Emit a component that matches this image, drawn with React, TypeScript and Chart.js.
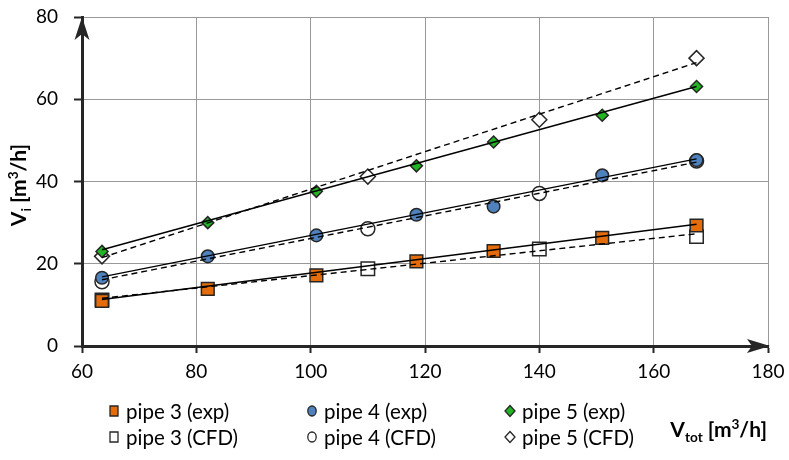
import React, { useEffect, useRef } from 'react';
import { Chart, registerables } from 'chart.js';

Chart.register(...registerables);

// ---- data ----
const xExp = [63.5, 82, 101, 118.5, 132, 151, 167.5];
const pipe3Exp = [11.0, 13.9, 17.2, 20.6, 23.1, 26.3, 29.3];
const pipe4Exp = [16.6, 21.8, 26.9, 31.9, 33.9, 41.5, 45.2];
const pipe5Exp = [23.0, 30.0, 37.6, 43.8, 49.6, 56.1, 63.1];

const xCfd = [63.5, 110, 140, 167.5];
const pipe3Cfd = [11.2, 18.8, 23.6, 26.6];
const pipe4Cfd = [15.6, 28.5, 37.1, 45.0];
const pipe5Cfd = [21.8, 41.2, 55.0, 70.0];

// trend line end points (x range of data)
const trendX = [63.5, 167.5];
const trend3Exp = [11.3, 29.6];
const trend3Cfd = [11.6, 27.3];
const trend4Exp = [16.8, 45.5];
const trend4Cfd = [16.1, 44.7];
const trend5Exp = [23.4, 63.1];
const trend5Cfd = [21.5, 68.9];

const xTicks = [60, 80, 100, 120, 140, 160, 180];
const yTicks = [0, 20, 40, 60, 80];

const legendLabels = [
  'pipe 3 (exp)',
  'pipe 4 (exp)',
  'pipe 5 (exp)',
  'pipe 3 (CFD)',
  'pipe 4 (CFD)',
  'pipe 5 (CFD)',
];

const ORANGE = '#E46C0A';
const BLUE = '#4F81BD';
const GREEN = '#22B422';
const DARK = '#262626';
const FONT = 'Lato, Carlito, Calibri, "Open Sans", sans-serif';

const pts = (xs: number[], ys: number[]) => xs.map((x, i) => ({ x, y: ys[i] }));

type Run = { t: string; mode?: 'sub' | 'sup' };

function drawRuns(ctx: CanvasRenderingContext2D, runs: Run[], x: number, y: number, size: number) {
  let cx = x;
  ctx.textBaseline = 'alphabetic';
  ctx.textAlign = 'left';
  for (const r of runs) {
    let s = size;
    let dy = 0;
    if (r.mode === 'sub') { s = size * 0.65; dy = size * 0.22; }
    if (r.mode === 'sup') { s = size * 0.65; dy = -size * 0.38; }
    ctx.font = `bold ${s}px ${FONT}`;
    ctx.fillText(r.t, cx, y + dy);
    cx += ctx.measureText(r.t).width;
  }
  return cx - x;
}

function measureRuns(ctx: CanvasRenderingContext2D, runs: Run[], size: number) {
  let w = 0;
  for (const r of runs) {
    const s = r.mode ? size * 0.65 : size;
    ctx.font = `bold ${s}px ${FONT}`;
    w += ctx.measureText(r.t).width;
  }
  return w;
}

function marker(ctx: CanvasRenderingContext2D, kind: string, x: number, y: number, fill: string) {
  ctx.save();
  ctx.fillStyle = fill;
  ctx.strokeStyle = DARK;
  ctx.lineWidth = 1.3;
  ctx.beginPath();
  if (kind === 'rect') {
    ctx.rect(x - 4, y - 5, 8, 10);
  } else if (kind === 'circle') {
    ctx.ellipse(x, y, 4.2, 5, 0, 0, Math.PI * 2);
  } else {
    ctx.moveTo(x, y - 5.5);
    ctx.lineTo(x + 5, y);
    ctx.lineTo(x, y + 5.5);
    ctx.lineTo(x - 5, y);
    ctx.closePath();
  }
  ctx.fill();
  ctx.stroke();
  ctx.restore();
}

const decorPlugin = {
  id: 'decor',
  afterDraw(chart: any) {
    const ctx: CanvasRenderingContext2D = chart.ctx;
    const { left, right, top, bottom } = chart.chartArea;
    ctx.save();

    // arrow on y axis
    ctx.fillStyle = DARK;
    ctx.beginPath();
    ctx.moveTo(left, top);
    ctx.lineTo(left + 7.5, top + 23);
    ctx.lineTo(left, top + 17);
    ctx.lineTo(left - 7.5, top + 23);
    ctx.closePath();
    ctx.fill();

    // arrow on x axis
    ctx.beginPath();
    ctx.moveTo(right + 2, bottom);
    ctx.lineTo(right - 21, bottom - 7);
    ctx.lineTo(right - 16, bottom);
    ctx.lineTo(right - 21, bottom + 7);
    ctx.closePath();
    ctx.fill();

    // y axis title
    ctx.fillStyle = '#000';
    const yRuns: Run[] = [{ t: 'V' }, { t: 'i', mode: 'sub' }, { t: ' [m' }, { t: '3', mode: 'sup' }, { t: '/h]' }];
    const yw = measureRuns(ctx, yRuns, 21);
    ctx.save();
    ctx.translate(26, 185);
    ctx.rotate(-Math.PI / 2);
    drawRuns(ctx, yRuns, -yw / 2, 0, 21);
    ctx.restore();

    // x axis title
    const xRuns: Run[] = [{ t: 'V' }, { t: 'tot', mode: 'sub' }, { t: ' [m' }, { t: '3', mode: 'sup' }, { t: '/h]' }];
    const xw = measureRuns(ctx, xRuns, 21);
    drawRuns(ctx, xRuns, 767 - xw, 437, 21);

    // legend
    const colsMarker = [114, 312, 510];
    const colsText = [126, 324, 522];
    const rowsY = [411, 437];
    const kinds = ['rect', 'circle', 'diamond'];
    const fillsExp = [ORANGE, BLUE, GREEN];
    for (let i = 0; i < legendLabels.length; i++) {
      const col = i % 3;
      const row = Math.floor(i / 3);
      const fill = row === 0 ? fillsExp[col] : '#ffffff';
      marker(ctx, kinds[col], colsMarker[col], rowsY[row], fill);
      ctx.fillStyle = '#000';
      ctx.font = `20.5px ${FONT}`;
      ctx.textBaseline = 'middle';
      ctx.textAlign = 'left';
      ctx.fillText(legendLabels[i], colsText[col], rowsY[row] + 1);
    }
    ctx.restore();
  },
};

export default function App() {
  const ref = useRef<HTMLCanvasElement | null>(null);

  useEffect(() => {
    if (!ref.current) return;
    const line = (ys: number[], dashed: boolean) => ({
      data: pts(trendX, ys),
      showLine: true,
      borderColor: '#000',
      borderWidth: 1.4,
      borderDash: dashed ? [6, 4] : [],
      pointRadius: 0,
      pointHoverRadius: 0,
      fill: false,
    });
    const scatter = (xs: number[], ys: number[], style: string, r: number, fill: string, label: string) => ({
      label,
      data: pts(xs, ys),
      showLine: false,
      pointStyle: style,
      pointRadius: r,
      pointHoverRadius: r,
      pointBackgroundColor: fill,
      pointBorderColor: DARK,
      pointBorderWidth: 1.5,
      backgroundColor: fill,
      borderColor: DARK,
    });

    const chart = new Chart(ref.current, {
      type: 'scatter',
      data: {
        datasets: [
          line(trend3Exp, false),
          line(trend4Exp, false),
          line(trend5Exp, false),
          line(trend3Cfd, true),
          line(trend4Cfd, true),
          line(trend5Cfd, true),
          scatter(xExp, pipe3Exp, 'rect', 9, ORANGE, legendLabels[0]),
          scatter(xExp, pipe4Exp, 'circle', 6.3, BLUE, legendLabels[1]),
          scatter(xExp, pipe5Exp, 'rectRot', 6, GREEN, legendLabels[2]),
          scatter(xCfd, pipe3Cfd, 'rect', 9.5, '#ffffff', legendLabels[3]),
          scatter(xCfd, pipe4Cfd, 'circle', 7, '#ffffff', legendLabels[4]),
          scatter(xCfd, pipe5Cfd, 'rectRot', 7.5, '#ffffff', legendLabels[5]),
        ] as any,
      },
      options: {
        animation: false,
        responsive: true,
        maintainAspectRatio: false,
        layout: { padding: { left: 0, right: 21, top: 17, bottom: 0 } },
        plugins: { legend: { display: false }, tooltip: { enabled: false } },
        scales: {
          x: {
            type: 'linear',
            min: 60,
            max: 180,
            afterBuildTicks: (s: any) => { s.ticks = xTicks.map((v) => ({ value: v })); },
            afterFit: (s: any) => { s.height = 114; s.paddingLeft = 0; s.paddingRight = 0; },
            grid: { color: '#999999', lineWidth: 1, tickColor: DARK, tickLength: 7, tickWidth: 2 },
            border: { display: true, color: DARK, width: 3 },
            ticks: { color: '#000', font: { family: FONT, size: 19 }, padding: 7, autoSkip: false, maxRotation: 0 },
          },
          y: {
            type: 'linear',
            min: 0,
            max: 80,
            afterBuildTicks: (s: any) => { s.ticks = yTicks.map((v) => ({ value: v })); },
            afterFit: (s: any) => { s.width = 82; s.paddingTop = 0; s.paddingBottom = 0; },
            grid: { color: '#999999', lineWidth: 1, tickColor: DARK, tickLength: 8, tickWidth: 2 },
            border: { display: true, color: DARK, width: 3 },
            ticks: { color: '#000', font: { family: FONT, size: 19 }, padding: 16, autoSkip: false },
          },
        },
      } as any,
      plugins: [decorPlugin],
    });
    return () => chart.destroy();
  }, []);

  return (
    <div style={{ position: 'fixed', left: 0, top: 0, width: 789, height: 460, background: '#fff' }}>
      <canvas ref={ref} />
    </div>
  );
}
